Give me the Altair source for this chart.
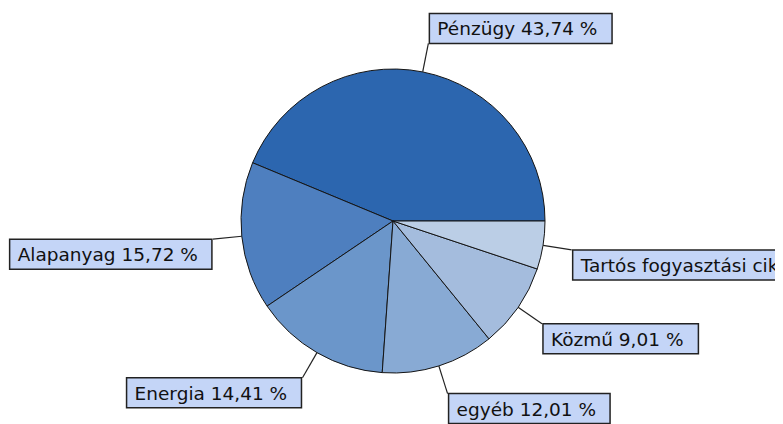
import math
import altair as alt
import pandas as pd

# ---- data ----
categories = ["Pénzügy", "Alapanyag", "Energia", "egyéb", "Közmű", "Tartós fogyasztási cikk"]
shares = [43.74, 15.72, 14.41, 12.01, 9.01, 5.11]
colors = ["#2C66AF", "#4E7FBF", "#6B96CA", "#88AAD4", "#A4BCDD", "#BBCEE6"]

# ---- layout / style ----
CX, CY, R = 385, 213, 152      # pie centre and radius (chart pixels)
LEAD = 29                      # leader line length
FONT = 18.5
FONT_NAME = "DejaVu Sans"
PAD_X = 8
BOX_EXTRA = 22
BOX_H = 30

# DejaVu Sans advance widths (em)
GW = {" ": .318, "%": .950, ",": .318, "A": .684, "E": .632, "K": .656, "P": .603,
      "T": .611, "a": .613, "á": .613, "b": .635, "c": .550, "e": .615, "é": .615,
      "f": .352, "g": .635, "i": .278, "k": .579, "l": .278, "m": .974, "n": .634,
      "o": .612, "ó": .612, "ö": .612, "p": .635, "r": .411, "s": .521, "t": .392,
      "u": .634, "ü": .634, "ű": .634, "y": .592, "z": .525}


def text_w(s):
    return sum(GW.get(ch, .636) for ch in s) * FONT


rows = []
cum = 0.0
n = len(categories)
for i, (cat, sh) in enumerate(zip(categories, shares)):
    mid = math.radians((cum + sh / 2) * 3.6)   # counter-clockwise from east
    cum += sh
    dx, dy = math.cos(mid), -math.sin(mid)
    sx, sy = CX + R * dx, CY + R * dy
    ex, ey = CX + (R + LEAD) * dx, CY + (R + LEAD) * dy
    label = f"{cat} {sh:.2f} %".replace(".", ",")
    bw = text_w(label) + BOX_EXTRA
    if dx >= 0:
        bx1 = ex + 1
        bx2 = bx1 + bw
    else:
        bx2 = ex - 1
        bx1 = bx2 - bw
    if dy < 0:
        by2 = ey
        by1 = by2 - BOX_H
    else:
        by1 = ey
        by2 = by1 + BOX_H
    rows.append(dict(cat=cat, share=sh, ord=n - 1 - i, label=label,
                     sx=sx, sy=sy, ex=ex, ey=ey,
                     bx1=bx1, bx2=bx2, by1=by1, by2=by2,
                     tx=bx1 + PAD_X, ty=(by1 + by2) / 2 + 1))

df = pd.DataFrame(rows)

pie = alt.Chart(df).mark_arc(radius=R, stroke="#151515", strokeWidth=1).encode(
    theta=alt.Theta("share:Q", stack=True,
                    scale=alt.Scale(range=[math.pi / 2, math.pi / 2 + 2 * math.pi])),
    color=alt.Color("cat:N", scale=alt.Scale(domain=categories, range=colors), legend=None),
    order=alt.Order("ord:Q"),
    x=alt.value(CX),
    y=alt.value(CY),
)

lead = alt.Chart(df).mark_rule(color="#222222", strokeWidth=1.2).encode(
    x=alt.X("sx:Q", scale=None, axis=None),
    y=alt.Y("sy:Q", scale=None, axis=None),
    x2="ex:Q",
    y2="ey:Q",
)

box = alt.Chart(df).mark_rect(fill="#C4D5F7", stroke="#222222", strokeWidth=1.5).encode(
    x=alt.X("bx1:Q", scale=None, axis=None),
    x2="bx2:Q",
    y=alt.Y("by1:Q", scale=None, axis=None),
    y2="by2:Q",
)

txt = alt.Chart(df).mark_text(align="left", baseline="middle", font=FONT_NAME,
                              fontSize=FONT, color="#111111").encode(
    x=alt.X("tx:Q", scale=None, axis=None),
    y=alt.Y("ty:Q", scale=None, axis=None),
    text="label:N",
)

chart = alt.layer(pie, lead, box, txt).properties(
    width=767, height=416, padding=0, autosize=alt.AutoSizeParams(type="none"),
    background="white",
).configure_view(strokeWidth=0)

chart.save("out.html", embed_options={"renderer": "svg", "actions": False})
